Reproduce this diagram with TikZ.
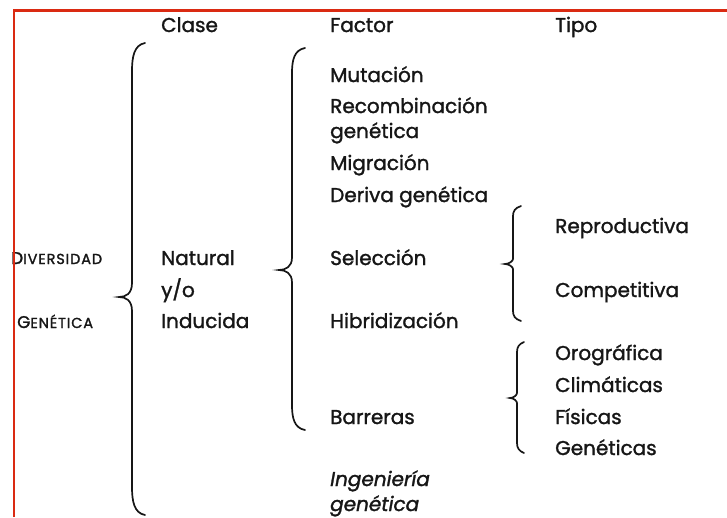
\documentclass[tikz,border=0pt]{standalone}
\usepackage{fontspec}
\setmainfont{Poppins}[BoldFont=Poppins, BoldFeatures={FakeBold=1.4}, ItalicFeatures={FakeBold=1.4}]
\usetikzlibrary{positioning}
\definecolor{marcorojo}{RGB}{218, 42, 18}
\definecolor{tinta}{RGB}{22, 22, 22}

% llave: x del trazo, y superior, y de la punta, y inferior, ancho, alto del rizo
\newcommand{\llave}[6]{%
  \draw[brace] (#1+#5,#2) .. controls (#1+2,#2+2) and (#1,#2+#6/2) .. (#1,#2+#6)
    -- (#1,#3-#6/2) .. controls (#1,#3-3) and (#1-#5/2,#3) .. (#1-#5,#3)
    .. controls (#1-#5/2,#3) and (#1,#3+3) .. (#1,#3+#6/2)
    -- (#1,#4-#6) .. controls (#1,#4-#6/2) and (#1+2,#4-2) .. (#1+#5,#4);}
\newcommand{\versal}[2]{{\addfontfeatures{LetterSpace=6}\fontsize{17}{17}\selectfont #1\fontsize{14.5}{14.5}\selectfont #2}}

\begin{document}
\begin{tikzpicture}[
    x=1pt, y=-1pt,
    item/.style={anchor=base west, inner sep=0pt, text=tinta, font=\fontsize{20}{20}\selectfont\bfseries},
    cursiva/.style={item, font=\fontsize{20}{20}\selectfont\mdseries\itshape},
    brace/.style={draw=tinta, line width=1.7pt, line cap=round},
    marco/.style={draw=marcorojo, line width=2.6pt}
]
    \useasboundingbox[fill=white] (0,0) rectangle (727,517);

    % encabezados
    \node[item] (clase) at (161,32) {Clase};
    \node[item] (factor) at (330,32) {Factor};
    \node[item] (tipo) at (555,32) {Tipo};

    % raiz
    \node[item] (diversidad) at (11,264) {\versal{D}{IVERSIDAD}};
    \node[item] (genetica) at (17,328) {\versal{G}{ENÉTICA}};

    % clase
    \node[item] (natural) at (161,265) {Natural};
    \node[item] (yo) at (161,297) {y/o};
    \node[item] (inducida) at (161,328) {Inducida};

    % factores
    \node[item] (mutacion) at (330,82) {Mutación};
    \node[item] (recomb) at (330,113) {Recombinación};
    \node[item] (recombgen) at (330,138) {genética};
    \node[item] (migracion) at (330,170) {Migración};
    \node[item] (deriva) at (330,202) {Deriva genética};
    \node[item] (seleccion) at (330,265) {Selección};
    \node[item] (hibrid) at (330,328) {Hibridización};
    \node[item] (barreras) at (330,424) {Barreras};
    \node[cursiva] (ingenieria) at (330,486) {Ingeniería};
    \node[cursiva] (ingenieriagen) at (330,511) {genética};

    % tipos
    \node[item] (reproductiva) at (555,233) {Reproductiva};
    \node[item] (competitiva) at (555,297) {Competitiva};
    \node[item] (orografica) at (555,360) {Orográfica};
    \node[item] (climaticas) at (555,392) {Climáticas};
    \node[item] (fisicas) at (555,424) {Físicas};
    \node[item] (geneticas) at (555,455) {Genéticas};

    % llaves
    \llave{132}{43}{297}{515}{13}{28}
    \llave{292}{48}{270}{430}{13}{25}
    \llave{513}{206}{264}{321}{8}{10}
    \llave{517}{342}{398}{453}{7}{10}

    % marco
    \draw[marco] (14,517) -- (14,10.5) -- (727,10.5);
\end{tikzpicture}
\end{document}
